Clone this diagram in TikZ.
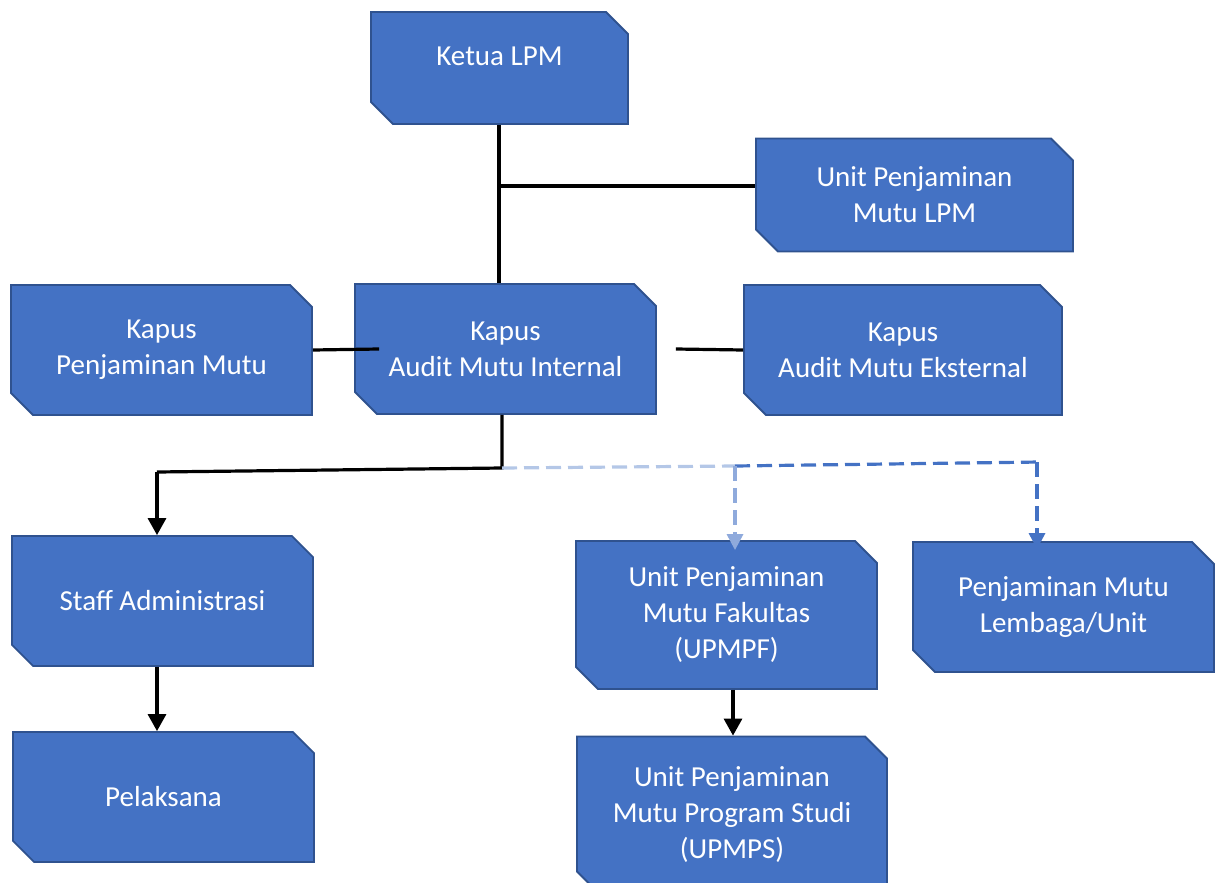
\documentclass[tikz,border=0pt]{standalone}
\usepackage{fontspec}
\setmainfont{Carlito}
\usepackage{tikz}
\usetikzlibrary{shapes.misc,arrows.meta}

\definecolor{boxfill}{HTML}{4472C4}
\definecolor{boxline}{HTML}{2F528F}
\definecolor{dashlight}{HTML}{B4C7E7}
\definecolor{dashmid}{HTML}{8FAADC}

\begin{document}
\begin{tikzpicture}[x=1pt,y=-1pt,
	kotak/.style={chamfered rectangle, chamfered rectangle corners={north east,south west},
		chamfered rectangle xsep=11pt, chamfered rectangle ysep=11pt,
		fill=boxfill, draw=boxline, line width=1.8pt, inner sep=0pt, text=white, align=center,
		font=\fontsize{29}{36}\selectfont},
	garis/.style={line width=3.2pt, black},
	panah/.style={line width=3.2pt, black, -{Triangle[width=18pt,length=17pt]}},
	putus/.style={line width=3.2pt, dash pattern=on 15pt off 7pt}]
	\useasboundingbox (0,0) rectangle (1223,883);
	\begin{scope}
		\node[kotak, minimum width=257pt, minimum height=112pt, text height=20pt, text depth=24pt] (ketua) at (499.5,68) {Ketua LPM};
		\node[kotak, minimum width=317pt, minimum height=113pt] (upmlpm) at (914.5,195) {Unit Penjaminan\\Mutu LPM};

		\node[kotak, minimum width=301pt, minimum height=130pt] (kpm) at (161.5,350) {Kapus\\Penjaminan Mutu};
		\node[kotak, minimum width=301pt, minimum height=130pt] (kami) at (505.5,349) {Kapus\\Audit Mutu Internal};
		\node[kotak, minimum width=318pt, minimum height=130pt] (kame) at (903,350) {Kapus\\Audit Mutu Eksternal};

		\node[kotak, minimum width=301pt, minimum height=130pt] (staff) at (162.5,601) {Staff Administrasi};
		\node[kotak, minimum width=301pt, minimum height=130pt] (pelaksana) at (163.5,797) {Pelaksana};
		\node[kotak, minimum width=301pt, minimum height=148pt] (upmpf) at (726.5,615) {Unit Penjaminan\\Mutu Fakultas\\(UPMPF)};
		\node[kotak, minimum width=301pt, minimum height=130pt] (pml) at (1063.5,607) {Penjaminan Mutu\\Lembaga/Unit};
		\node[kotak, minimum width=310pt, minimum height=157pt] (upmps) at (732,815) {Unit Penjaminan\\Mutu Program Studi\\(UPMPS)};

		\coordinate (simpul) at (499,186); % cabang ke unit LPM
		\coordinate (bawah) at (502,468); % cabang bawah
		\coordinate (kiri) at (157,472);
		\coordinate (tengah) at (735,466);
		\coordinate (kanan) at (1040,462);

		\draw[garis] (ketua.south -| simpul) -- (kami.north -| simpul); % ketua ke kapus
		\draw[garis] (simpul) -- (upmlpm.west |- simpul);
		\draw[garis] (kpm.east) -- ([xshift=25pt]kami.west);
		\draw[garis] ([xshift=19pt]kami.east) -- (kame.west);

		\draw[garis] (kami.south -| bawah) -- (bawah) -- (kiri);
		\draw[panah] (kiri) -- (staff.north -| kiri);
		\draw[panah] (staff.south -| kiri) -- (pelaksana.north -| kiri);

		\draw[putus, dashlight] (bawah) -- (tengah);
		\draw[putus, boxfill] (tengah) -- (kanan);
		\draw[putus, dashmid, -{Triangle[width=16pt,length=16pt]}] (tengah) -- ([yshift=-10pt]upmpf.north -| tengah);
		\draw[putus, boxfill, -{Triangle[width=16pt,length=16pt]}] ([xshift=-3pt]kanan) -- ([yshift=-8pt]pml.north -| 1037,0);
		\draw[panah] (upmpf.south -| 733,0) -- (upmps.north -| 733,0);
	\end{scope}
\end{tikzpicture}
\end{document}
